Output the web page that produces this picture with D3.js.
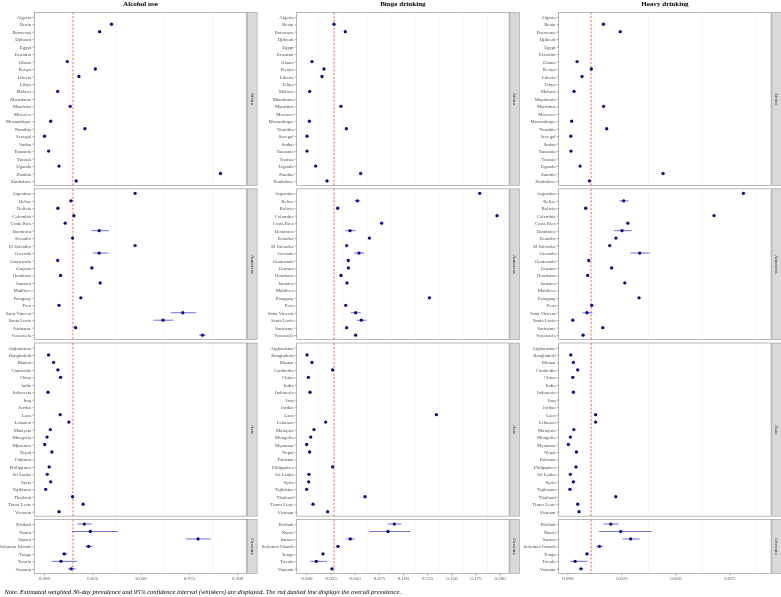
<!DOCTYPE html>
<html>
<head>
<meta charset="utf-8">
<script src="https://cdn.jsdelivr.net/npm/d3@7"></script>
<style>
  html, body { margin: 0; padding: 0; background: #ffffff; }
  svg { display: block; will-change: transform; }
</style>
</head>
<body>
<script>
// ---------------- DATA ----------------
const regions = ["Africa", "Americas", "Asia", "Oceania"];
const africa = ["Algeria","Benin","Botswana","Djibouti","Egypt","Eswatini","Ghana","Kenya","Liberia","Libya","Malawi","Mauritania","Mauritius","Morocco","Mozambique","Namibia","Senegal","Sudan","Tanzania","Tunisia","Uganda","Zambia","Zimbabwe"];
const americas = ["Argentina","Belize","Bolivia","Colombia","Costa Rica","Dominica","Ecuador","El Salvador","Grenada","Guatemala","Guyana","Honduras","Jamaica","Maldives","Paraguay","Peru","Saint Vincent","Santa Lucia","Suriname","Venezuela"];
const asia = ["Afghanistan","Bangladesh","Bhutan","Cambodia","China","India","Indonesia","Iraq","Jordan","Laos","Lebanon","Malaysia","Mongolia","Myanmar","Nepal","Pakistan","Philippines","Sri Lanka","Syria","Tajikistan","Thailand","Timor Leste","Vietnam"];
const oceania = ["Kiribati","Nauru","Samoa","Solomon Islands","Tonga","Tuvalu","Vanuatu"];

const measureTitles = ["Alcohol use", "Binge drinking", "Heavy drinking"];

// estimates, in order africa + americas + asia + oceania (null = not available)
const alcoholEst = [
  null, 0.0350, 0.0288, null, null, null, 0.0121, 0.0266, 0.0181, null, 0.0071, null, 0.0136, null, 0.0035, 0.0212, 0.0003, null, 0.0024, null, 0.0078, 0.0914, 0.0167,
  0.0472, 0.0140, 0.0072, 0.0155, 0.0110, 0.0286, 0.0148, 0.0472, 0.0286, 0.0071, 0.0248, 0.0086, 0.0291, null, 0.0191, 0.0078, 0.0719, 0.0617, 0.0164, 0.0821,
  null, 0.0024, 0.0050, 0.0072, 0.0086, null, 0.0021, null, null, 0.0084, 0.0129, 0.0033, 0.0016, 0.0004, 0.0041, null, 0.0027, 0.0017, 0.0035, 0.0009, 0.0148, 0.0203, 0.0078,
  0.0209, 0.0240, 0.0798, 0.0231, 0.0105, 0.0088, 0.0141
];
const bingeEst = [
  null, 0.0286, 0.0403, null, null, null, 0.0058, 0.0182, 0.0162, null, 0.0034, null, 0.0358, null, 0.0031, 0.0414, 0.0007, null, 0.0007, null, 0.0096, 0.0562, 0.0214,
  0.1794, 0.0528, 0.0324, 0.1973, 0.0779, 0.0452, 0.0652, 0.0417, 0.0545, 0.0434, 0.0434, 0.0358, 0.0420, null, 0.1273, 0.0407, 0.0510, 0.0569, 0.0417, 0.0510,
  null, 0.0007, 0.0058, 0.0272, 0.0021, null, 0.0038, null, null, 0.1346, 0.0200, 0.0079, 0.0045, 0.0003, 0.0034, null, 0.0272, 0.0027, 0.0024, 0.0003, 0.0607, 0.0069, 0.0220,
  0.0911, 0.0845, 0.0455, 0.0327, 0.0172, 0.0103, 0.0265
];
const heavyEst = [
  null, 0.0167, 0.0245, null, null, null, 0.0045, 0.0111, 0.0068, null, 0.0031, null, 0.0168, null, 0.0020, 0.0182, 0.0016, null, 0.0017, null, 0.0059, 0.0443, 0.0102,
  0.0815, 0.0261, 0.0085, 0.0679, 0.0280, 0.0253, 0.0225, 0.0196, 0.0335, 0.0099, 0.0205, 0.0094, 0.0266, null, 0.0332, 0.0113, 0.0091, 0.0025, 0.0164, 0.0073,
  null, 0.0016, 0.0028, 0.0048, 0.0025, null, 0.0028, null, null, 0.0131, 0.0131, 0.0030, 0.0014, 0.0005, 0.0042, null, 0.0040, 0.0014, 0.0028, 0.0012, 0.0224, 0.0048, 0.0054,
  0.0201, 0.0247, 0.0293, 0.0148, 0.0091, 0.0036, 0.0063
];

// 95% confidence intervals wide enough to be visible
const alcoholCiCountry = ["Belize","Dominica","Grenada","Guyana","Saint Vincent","Santa Lucia","Suriname","Venezuela","Kiribati","Nauru","Samoa","Solomon Islands","Tonga","Tuvalu","Vanuatu"];
const alcoholCiLow  = [0.0132, 0.0247, 0.0252, 0.0240, 0.0657, 0.0567, 0.0158, 0.0804, 0.0172, 0.0146, 0.0735, 0.0214, 0.0093, 0.0040, 0.0125];
const alcoholCiHigh = [0.0149, 0.0336, 0.0334, 0.0256, 0.0788, 0.0669, 0.0171, 0.0838, 0.0247, 0.0383, 0.0864, 0.0250, 0.0122, 0.0172, 0.0164];

const bingeCiCountry = ["Belize","Dominica","Grenada","Saint Vincent","Santa Lucia","Kiribati","Nauru","Samoa","Solomon Islands","Tonga","Tuvalu","Vanuatu"];
const bingeCiLow  = [0.0500, 0.0404, 0.0493, 0.0460, 0.0521, 0.0842, 0.0655, 0.0414, 0.0307, 0.0160, 0.0041, 0.0251];
const bingeCiHigh = [0.0556, 0.0510, 0.0600, 0.0562, 0.0620, 0.0983, 0.1073, 0.0500, 0.0348, 0.0185, 0.0214, 0.0282];

const heavyCiCountry = ["Belize","Dominica","Grenada","Guyana","Saint Vincent","Suriname","Kiribati","Nauru","Samoa","Solomon Islands","Tonga","Tuvalu","Vanuatu"];
const heavyCiLow  = [0.0241, 0.0216, 0.0293, 0.0197, 0.0071, 0.0157, 0.0167, 0.0147, 0.0256, 0.0135, 0.0084, 0.0014, 0.0054];
const heavyCiHigh = [0.0283, 0.0298, 0.0381, 0.0214, 0.0116, 0.0172, 0.0238, 0.0391, 0.0335, 0.0166, 0.0098, 0.0093, 0.0074];

// overall prevalence (red dashed line)
const overallPrev = [0.0150, 0.0286, 0.0110];

// x-axis tick labels
const alcoholTicks = [0, 0.025, 0.05, 0.075, 0.1];
const bingeTicks = [0, 0.025, 0.05, 0.075, 0.1, 0.125, 0.15, 0.175, 0.2];
const heavyTicks = [0, 0.025, 0.05, 0.075];

const noteText = "Note. Estimated weighted 30-day prevalence and 95% confidence interval (whiskers) are displayed. The red dashed line displays the overall prevalence.";

// ---------------- LAYOUT ----------------
const W = 781, H = 597;
const serif = "'Liberation Serif','Times New Roman',Times,serif";
const svg = d3.select("body").append("svg").attr("width", W).attr("height", H)
  .style("background", "#ffffff");

const allCountries = [].concat(africa, americas, asia, oceania);
const regionLists = [africa, americas, asia, oceania];

const plotTop = 12.3, plotBottom = 573.3, panelGap = 3.4, expand = 0.6;
const totalUnits = d3.sum(regionLists, l => l.length - 1 + 2 * expand);
const unit = (plotBottom - plotTop - panelGap * 3) / totalUnits;
let yCursor = plotTop;
const panels = regionLists.map((list, i) => {
  const h = (list.length - 1 + 2 * expand) * unit;
  const p = {
    name: regions[i], list, y0: yCursor, y1: yCursor + h,
    y: d3.scalePoint().domain(list).range([yCursor, yCursor + h]).padding(expand)
  };
  yCursor += h + panelGap;
  return p;
});

const columns = [
  { title: measureTitles[0], est: alcoholEst, ciC: alcoholCiCountry, ciL: alcoholCiLow, ciH: alcoholCiHigh, ticks: alcoholTicks, overall: overallPrev[0], domain: [-0.005, 0.105], ox: 0 },
  { title: measureTitles[1], est: bingeEst, ciC: bingeCiCountry, ciL: bingeCiLow, ciH: bingeCiHigh, ticks: bingeTicks, overall: overallPrev[1], domain: [-0.01, 0.2098], ox: 262.4 },
  { title: measureTitles[2], est: heavyEst, ciC: heavyCiCountry, ciL: heavyCiLow, ciH: heavyCiHigh, ticks: heavyTicks, overall: overallPrev[2], domain: [-0.004, 0.0943], ox: 524.4 }
];

const plotLeftOff = 34.3, plotW = 212.4, stripGap = 0.8, stripW = 9.6;
const labelSize = 4.75;

columns.forEach(col => {
  const x0 = col.ox + plotLeftOff, x1 = x0 + plotW;
  const x = d3.scaleLinear().domain(col.domain).range([x0, x1]);
  const g = svg.append("g");

  // title
  g.append("text").attr("x", (x0 + x1) / 2).attr("y", 6.2)
    .attr("text-anchor", "middle").attr("font-family", serif)
    .attr("font-weight", "bold").attr("font-size", 7.1).attr("fill", "#000")
    .text(col.title);

  // minor gridline positions (midpoints between major ticks)
  const step = col.ticks[1] - col.ticks[0];
  const minors = [];
  for (let i = 0; i < col.ticks.length; i++) {
    const m = col.ticks[i] + step / 2;
    if (m < col.domain[1]) minors.push(m);
  }

  const lookup = new Map(allCountries.map((c, i) => [c, col.est[i]]));
  const ciMap = new Map(col.ciC.map((c, i) => [c, [col.ciL[i], col.ciH[i]]]));

  panels.forEach((p, pi) => {
    const pg = g.append("g");
    pg.append("rect").attr("x", x0).attr("y", p.y0).attr("width", plotW).attr("height", p.y1 - p.y0)
      .attr("fill", "#ffffff");
    // grid
    pg.selectAll("line.minor").data(minors).join("line")
      .attr("x1", d => x(d)).attr("x2", d => x(d)).attr("y1", p.y0).attr("y2", p.y1)
      .attr("stroke", "#ececec").attr("stroke-width", 0.5);
    // overall line
    pg.append("line").attr("x1", x(col.overall)).attr("x2", x(col.overall))
      .attr("y1", p.y0).attr("y2", p.y1)
      .attr("stroke", "#ee3b2b").attr("stroke-width", 0.75).attr("stroke-dasharray", "2.2,1.6");

    const rows = p.list.filter(c => lookup.get(c) != null).map(c => ({ c, v: lookup.get(c), ci: ciMap.get(c) }));
    // whiskers
    pg.selectAll("line.ci").data(rows.filter(r => r.ci)).join("line")
      .attr("x1", r => x(r.ci[0])).attr("x2", r => x(r.ci[1]))
      .attr("y1", r => p.y(r.c)).attr("y2", r => p.y(r.c))
      .attr("stroke", "#4040cc").attr("stroke-width", 0.75);
    // points
    pg.selectAll("circle").data(rows).join("circle")
      .attr("cx", r => x(r.v)).attr("cy", r => p.y(r.c)).attr("r", 1.65)
      .attr("fill", "#0a0a8c");

    // border
    pg.append("rect").attr("x", x0).attr("y", p.y0).attr("width", plotW).attr("height", p.y1 - p.y0)
      .attr("fill", "none").attr("stroke", "#8a8a8a").attr("stroke-width", 0.6);

    // strip
    const sx = x1 + stripGap;
    pg.append("rect").attr("x", sx).attr("y", p.y0).attr("width", stripW).attr("height", p.y1 - p.y0)
      .attr("fill", "#d9d9d9").attr("stroke", "#8a8a8a").attr("stroke-width", 0.5);
    const cy = (p.y0 + p.y1) / 2, cx = sx + stripW / 2;
    pg.append("text").attr("transform", `translate(${cx},${cy}) rotate(90)`)
      .attr("text-anchor", "middle").attr("dy", "0.35em")
      .attr("font-family", serif).attr("font-size", 5).attr("fill", "#1a1a1a")
      .text(p.name);

    // y axis
    const ya = pg.append("g").attr("transform", `translate(${x0},0)`)
      .call(d3.axisLeft(p.y).tickSize(2).tickPadding(1.2));
    ya.select(".domain").remove();
    ya.selectAll(".tick line").attr("stroke", "#4d4d4d").attr("stroke-width", 0.5);
    ya.selectAll(".tick text").attr("font-family", serif).attr("font-size", labelSize).attr("fill", "#4d4d4d");

    if (pi === panels.length - 1) {
      const xa = pg.append("g").attr("transform", `translate(0,${p.y1})`)
        .call(d3.axisBottom(x).tickValues(col.ticks).tickFormat(d3.format(".3f")).tickSize(2).tickPadding(1.5));
      xa.select(".domain").remove();
      xa.selectAll(".tick line").attr("stroke", "#4d4d4d").attr("stroke-width", 0.5);
      xa.selectAll(".tick text").attr("font-family", serif).attr("font-size", 5).attr("fill", "#4d4d4d");
    }
  });
});

// note
svg.append("text").attr("x", 4.5).attr("y", 594.3)
  .attr("font-family", serif).attr("font-style", "italic").attr("font-size", 6.5)
  .attr("fill", "#000").text(noteText);
</script>
</body>
</html>
